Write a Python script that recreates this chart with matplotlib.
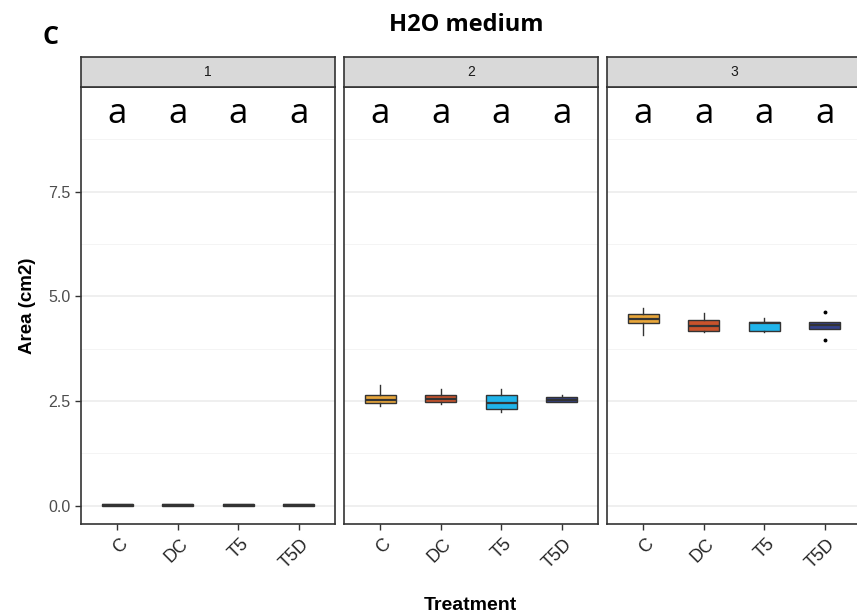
import numpy as np
import matplotlib
matplotlib.use("Agg")
import matplotlib.pyplot as plt
import matplotlib.transforms as mtransforms

# data (box stats per panel, one value per treatment)
treatments = ["C", "DC", "T5", "T5D"]
panels = ["1", "2", "3"]
box_colors = ["#E8A63A", "#C9532C", "#20B4EA", "#33418A"]
letters = ["a", "a", "a", "a"]

whislo_1 = [0.0, 0.0, 0.0, 0.0]
q1_1 = [0.0, 0.0, 0.0, 0.0]
med_1 = [0.02, 0.02, 0.02, 0.02]
q3_1 = [0.04, 0.04, 0.04, 0.04]
whishi_1 = [0.04, 0.04, 0.04, 0.04]

whislo_2 = [2.38, 2.42, 2.23, 2.48]
q1_2 = [2.44, 2.48, 2.31, 2.48]
med_2 = [2.52, 2.55, 2.46, 2.53]
q3_2 = [2.64, 2.63, 2.64, 2.60]
whishi_2 = [2.88, 2.78, 2.78, 2.65]

whislo_3 = [4.07, 4.14, 4.14, 4.23]
q1_3 = [4.35, 4.16, 4.16, 4.23]
med_3 = [4.46, 4.29, 4.36, 4.31]
q3_3 = [4.57, 4.43, 4.39, 4.39]
whishi_3 = [4.71, 4.61, 4.49, 4.39]
fliers_3 = [[], [], [], [4.62, 3.96]]

stats_all = [
    (whislo_1, q1_1, med_1, q3_1, whishi_1, [[], [], [], []]),
    (whislo_2, q1_2, med_2, q3_2, whishi_2, [[], [], [], []]),
    (whislo_3, q1_3, med_3, q3_3, whishi_3, fliers_3),
]

letter_y = 9.35

W, H = 857, 616
fig = plt.figure(figsize=(W / 100, H / 100), dpi=100)
fig.set_facecolor("white")

dark = "#333333"
panel_left = [81, 344, 607]
panel_w = 254
panel_top, panel_bot = 87, 524
strip_top = 57

for p, (lo, q1, med, q3, hi, fl) in enumerate(stats_all):
    x0 = panel_left[p] / W
    ax = fig.add_axes([x0, 1 - panel_bot / H, panel_w / W, (panel_bot - panel_top) / H])
    stats = []
    for i in range(len(treatments)):
        stats.append(dict(whislo=lo[i], q1=q1[i], med=med[i], q3=q3[i],
                          whishi=hi[i], fliers=fl[i]))
    bp = ax.bxp(stats, positions=np.arange(1, 5), widths=0.52, patch_artist=True,
                showcaps=False,
                boxprops=dict(edgecolor=dark, linewidth=1.0),
                whiskerprops=dict(color=dark, linewidth=1.0),
                medianprops=dict(color=dark, linewidth=1.6),
                flierprops=dict(marker="o", markersize=1.8, markerfacecolor="black",
                                markeredgecolor="black"))
    for patch, c in zip(bp["boxes"], box_colors):
        patch.set_facecolor(c)

    for i, lab in enumerate(letters):
        ax.text(i + 1, letter_y, lab, ha="center", va="center", fontsize=25,
                family="Open Sans", color="black")

    ax.set_xlim(0.4, 4.6)
    ax.set_ylim(-0.44, 10.0)
    ax.set_yticks([0, 2.5, 5.0, 7.5])
    ax.set_yticks([1.25, 3.75, 6.25, 8.75], minor=True)
    ax.grid(True, axis="y", which="major", color="#EBEBEB", linewidth=1.1)
    ax.grid(True, axis="y", which="minor", color="#F2F2F2", linewidth=0.6)
    ax.set_axisbelow(True)
    ax.tick_params(which="minor", length=0)
    ax.tick_params(axis="both", color=dark, length=4, width=1)
    for s in ax.spines.values():
        s.set_color(dark)
        s.set_linewidth(1.2)

    ax.set_xticks(np.arange(1, 5))
    ax.set_xticklabels(treatments, rotation=45, ha="right", va="center",
                       rotation_mode="anchor", fontsize=13, family="Liberation Sans",
                       color="#262626")
    off = mtransforms.ScaledTranslation(8 / 100, -7 / 100, fig.dpi_scale_trans)
    for lbl in ax.get_xticklabels():
        lbl.set_transform(lbl.get_transform() + off)

    if p == 0:
        ax.set_yticklabels(["0.0", "2.5", "5.0", "7.5"], fontsize=11.5,
                           family="Liberation Sans", color="#4D4D4D")
    else:
        ax.tick_params(axis="y", left=False, labelleft=False)

    # facet strip
    sx = fig.add_axes([x0, 1 - panel_top / H, panel_w / W, (panel_top - strip_top) / H])
    sx.set_facecolor("#D9D9D9")
    sx.set_xticks([])
    sx.set_yticks([])
    for s in sx.spines.values():
        s.set_color(dark)
        s.set_linewidth(1.2)
    sx.text(0.5, 0.5, panels[p], ha="center", va="center", fontsize=10,
            family="Liberation Sans", color="#1A1A1A", transform=sx.transAxes)

fig.text(470 / W, 1 - 605 / H, "Treatment", ha="center", va="center", fontsize=14,
         fontweight="bold", family="Liberation Sans")
fig.text(27 / W, 1 - 306 / H, "Area (cm2)", ha="center", va="center", fontsize=13.5,
         fontweight="bold", family="Liberation Sans", rotation=90)
fig.text(466 / W, 1 - 25 / H, "H2O medium", ha="center", va="center", fontsize=17,
         fontweight="bold", family="Open Sans")
fig.text(50 / W, 1 - 37 / H, "C", ha="center", va="center", fontsize=18,
         fontweight="bold", family="Open Sans")

fig.savefig("out.png", dpi=100)
